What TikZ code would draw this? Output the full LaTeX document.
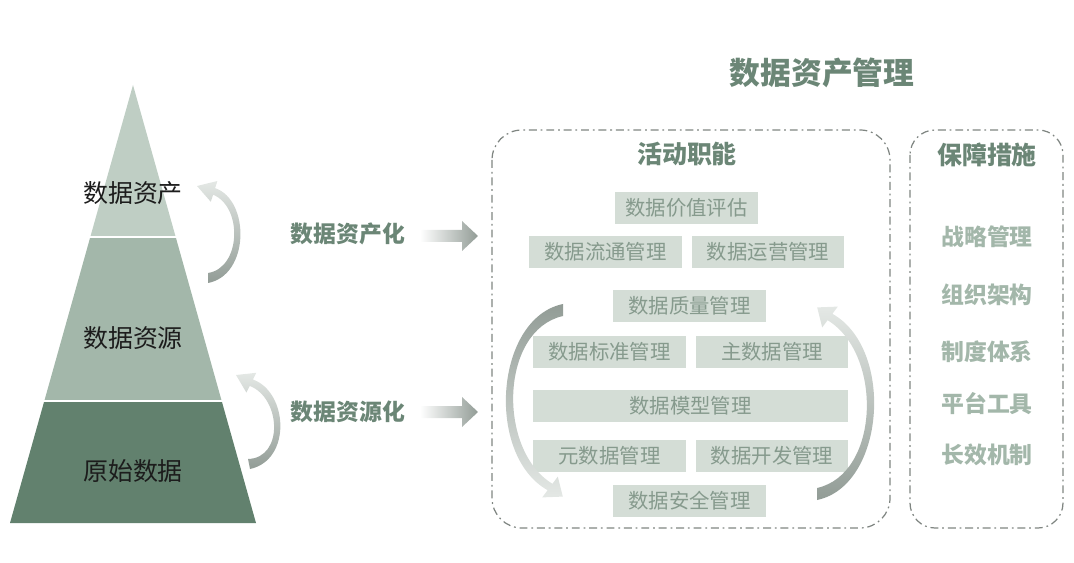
\documentclass[tikz,border=0pt]{standalone}
\usepackage{fontspec}
\setmainfont{Noto Sans CJK SC}
\definecolor{tiertop}{HTML}{BFCEC4}
\definecolor{tiermid}{HTML}{A3B7AA}
\definecolor{tierbot}{HTML}{62816E}
\definecolor{tiertext}{HTML}{1C1C1C}
\definecolor{headtext}{HTML}{6B8676}
\definecolor{boxfill}{HTML}{D4DDD6}
\definecolor{boxtext}{HTML}{869A8D}
\definecolor{itemtext}{HTML}{A3B7AA}
\definecolor{framegrey}{HTML}{7F8581}
\definecolor{bendlight}{HTML}{E4E8E5}
\definecolor{benddark}{HTML}{929C96}
\begin{document}
\begin{tikzpicture}[x=0.02cm, y={(0,-0.02cm)},
    tier/.style={font=\fontsize{14.2}{16}\selectfont, text=tiertext},
    proc/.style={font=\bfseries\fontsize{13}{15}\selectfont, text=headtext},
    actbox/.style={fill=boxfill, text=boxtext, font=\fontsize{11.6}{13}\selectfont,
      minimum width=3.06cm, minimum height=0.66cm, inner sep=0pt},
    measure/.style={font=\bfseries\fontsize{13}{15}\selectfont, text=itemtext},
    dashframe/.style={draw=framegrey, line width=0.7pt,
      dash pattern=on 4.5pt off 2.2pt on 1pt off 2.2pt}]
  \useasboundingbox (0,0) rectangle (1074,563);
  % pyramid
  \fill[tiertop] (133,85) -- (175.7,237) -- (90.3,237) -- cycle;
  \fill[tiermid] (90.3,237) -- (175.7,237) -- (221.7,401) -- (44.3,401) -- cycle;
  \fill[tierbot] (44.3,401) -- (221.7,401) -- (256,523) -- (10,523) -- cycle;
  \draw[white, line width=1.1pt] (90.3,237) -- (175.7,237) (44.3,401) -- (221.7,401);
  \draw
    (133,193) node[tier] (asset){数据资产}
    (133,338) node[tier] (resource){数据资源}
    (133,471) node[tier] (raw){原始数据};
  % bent arrows beside the pyramid
  \shade[top color=bendlight, bottom color=benddark]
    (208,283) .. controls (250,275) and (250,200) .. (215.1,188.1)
    -- (217.4,181) -- (197,186) -- (210.8,201.8) -- (213.1,194.7)
    .. controls (243,207) and (241,268) .. (208,273) -- cycle;
  \shade[top color=bendlight, bottom color=benddark]
    (250,469) .. controls (292,460) and (288,392) .. (252.9,379.5)
    -- (256.3,372.8) -- (236,375) -- (246.4,392.6) -- (249.7,385.9)
    .. controls (281,398) and (284,458) .. (248,459) -- cycle;
  % process labels and block arrows
  \draw
    (348,234) node[proc] (assetize){数据资产化}
    (348,412) node[proc] (resourcize){数据资源化};
  \shade[left color=white, right color=benddark]
    (420,230) -- (462,230) -- (462,221) -- (478,236) -- (462,251) -- (462,242) -- (420,242) -- cycle;
  \shade[left color=white, right color=benddark]
    (420,406) -- (462,406) -- (462,397) -- (478,412) -- (462,427) -- (462,418) -- (420,418) -- cycle;
  % right part
  \node[font=\bfseries\fontsize{17.5}{20}\selectfont, text=headtext] (title) at (822,73) {数据资产管理};
  \draw[dashframe, rounded corners=0.6cm] (492,130) rectangle (890,528);
  \draw[dashframe, rounded corners=0.5cm] (910,130) rectangle (1063,528);
  \node[proc, font=\bfseries\fontsize{14.2}{16}\selectfont] (activity) at (687,154) {活动职能};
  \node[proc, font=\bfseries\fontsize{14.2}{16}\selectfont] (guarantee) at (987,155) {保障措施};
  \begin{scope}[every node/.append style=actbox]
    \node[minimum width=2.86cm, minimum height=0.64cm] (value) at (686.5,208) {数据价值评估};
    \node[minimum height=0.64cm] (flow) at (605.5,252) {数据流通管理};
    \node[minimum height=0.64cm] (ops) at (768,252) {数据运营管理};
    \node (quality) at (689.5,306) {数据质量管理};
    \node (standard) at (609.5,352) {数据标准管理};
    \node (master) at (772,352) {主数据管理};
    \node[minimum width=6.3cm] (model) at (690.5,406) {数据模型管理};
    \node[minimum height=0.64cm] (meta) at (609.5,456) {元数据管理};
    \node[minimum height=0.64cm] (dev) at (772,456) {数据开发管理};
    \node (security) at (689.5,501) {数据安全管理};
  \end{scope}
  % cycle arrows round the activities
  \shade[top color=benddark, bottom color=bendlight]
    (563,304) .. controls (495,318) and (485,455) .. (547.6,490.2)
    -- (542.2,497.4) -- (562.8,496.6) -- (557.8,476.6) -- (552.4,483.8)
    .. controls (497,450) and (500,330) .. (563,316) -- cycle;
  \shade[top color=bendlight, bottom color=benddark]
    (817,500) .. controls (885,486) and (895,349) .. (832.4,313.8)
    -- (837.8,306.6) -- (817.2,307.4) -- (822.2,327.4) -- (827.6,320.2)
    .. controls (883,354) and (880,474) .. (817,488) -- cycle;
  \draw
    (987,237) node[measure] (strategy){战略管理}
    (987,295) node[measure] (org){组织架构}
    (987,352) node[measure] (rules){制度体系}
    (987,404) node[measure] (tools){平台工具}
    (987,455) node[measure] (longterm){长效机制};
\end{tikzpicture}
\end{document}
